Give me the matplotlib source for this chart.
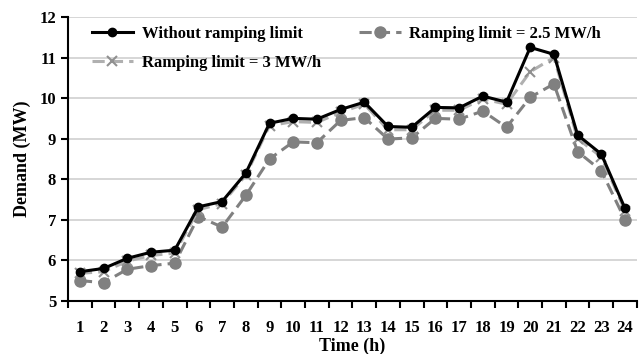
import matplotlib
matplotlib.use('Agg')
import matplotlib.pyplot as plt

plt.rcParams['font.family'] = ['Liberation Serif', 'DejaVu Serif']
plt.rcParams['font.weight'] = 'bold'

# demand profiles
hours = list(range(1, 25))
no_limit = [5.72, 5.8, 6.05, 6.2, 6.25, 7.32, 7.45, 8.15, 9.38, 9.5, 9.48, 9.72,
            9.9, 9.3, 9.28, 9.77, 9.76, 10.05, 9.9, 11.25, 11.08, 9.09, 8.62, 7.28]
limit_25 = [5.5, 5.45, 5.78, 5.87, 5.93, 7.08, 6.82, 7.6, 8.5, 8.92, 8.9, 9.45,
            9.52, 8.99, 9.02, 9.5, 9.48, 9.68, 9.28, 10.02, 10.35, 8.68, 8.21, 7.0]
limit_3 = [5.68, 5.72, 5.98, 6.12, 6.18, 7.25, 7.4, 8.1, 9.32, 9.42, 9.4, 9.65,
           9.85, 9.22, 9.22, 9.7, 9.7, 9.98, 9.85, 10.65, 11.0, 9.0, 8.55, 7.22]

fig, ax = plt.subplots(figsize=(6.42, 3.54), dpi=100)
fig.subplots_adjust(left=0.106, right=0.992, top=0.952, bottom=0.15)

l25, = ax.plot(hours, limit_25, color='#808080', ls='--', lw=2.2, marker='o', ms=8,
               dashes=(4, 2), label='Ramping limit = 2.5 MW/h', zorder=3)
l3, = ax.plot(hours, limit_3, color='#b0b0b0', ls='--', lw=2.2, marker='x', ms=7,
              mew=1.5, mec='#909090', dashes=(4, 2), label='Ramping limit = 3 MW/h', zorder=4)
l0, = ax.plot(hours, no_limit, color='black', lw=2.2, marker='o', ms=6,
              label='Without ramping limit', zorder=5)

ax.set_xlim(0.5, 24.5)
ax.set_ylim(5, 12)
ax.set_xticks(hours)
ax.set_xticks([h + 0.5 for h in range(0, 25)], minor=True)
ax.tick_params(axis='x', which='major', length=0, pad=14, labelsize=12)
ax.tick_params(axis='x', which='minor', length=5, width=1.5, direction='out')
ax.tick_params(axis='y', length=5, width=1.5, labelsize=12)
ax.grid(axis='y', color='#d0d0d0', lw=1.2)
ax.set_axisbelow(True)
for s in ['top', 'right']:
    ax.spines[s].set_visible(False)
ax.spines['left'].set_linewidth(1.5)
ax.spines['bottom'].set_linewidth(1.5)

ax.set_xlabel('Time (h)', fontsize=13, fontweight='bold', labelpad=1)
ax.set_ylabel('Demand (MW)', fontsize=13, fontweight='bold', labelpad=6)

ax.legend(handles=[l0, l3, l25], ncol=2, loc='upper left', bbox_to_anchor=(0.015, 1.02),
          frameon=False, prop={'weight': 'bold', 'size': 12}, handlelength=2.5,
          handletextpad=0.5, columnspacing=2.3, labelspacing=0.75)

fig.savefig('out.png', dpi=100)
